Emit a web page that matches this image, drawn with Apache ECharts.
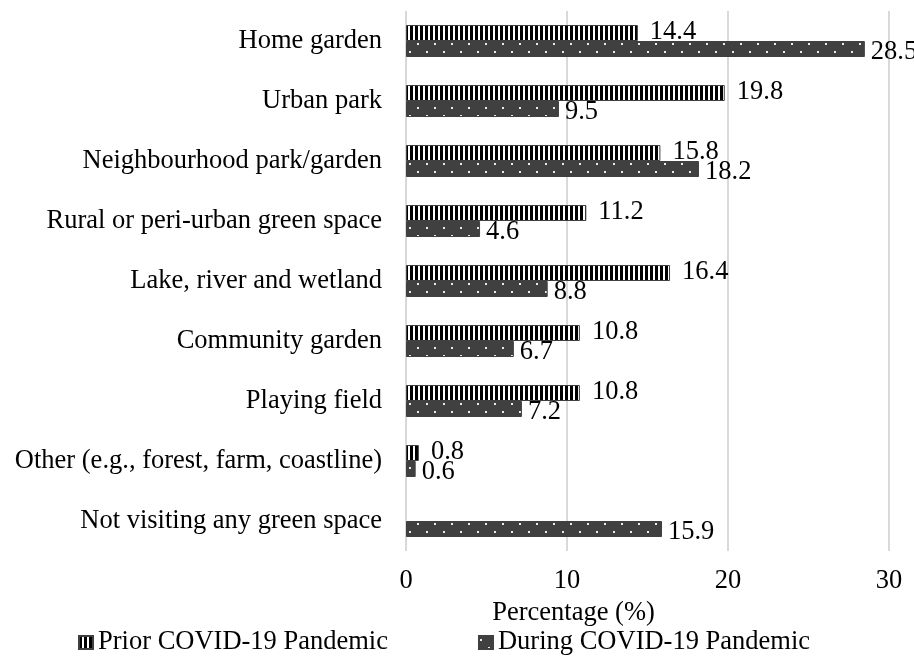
<!DOCTYPE html>
<html>
<head>
<meta charset="utf-8">
<title>Green space visits</title>
<script src="https://cdn.jsdelivr.net/npm/echarts@6/dist/echarts.min.js"></script>
<style>
  html, body { margin: 0; padding: 0; background: #fff; }
  #chart { width: 914px; height: 656px; }
</style>
</head>
<body>
<div id="chart"></div>
<script>
// Green space types, top to bottom
const categories = [
  'Home garden',
  'Urban park',
  'Neighbourhood park/garden',
  'Rural or peri-urban green space',
  'Lake, river and wetland',
  'Community garden',
  'Playing field',
  'Other (e.g., forest, farm, coastline)',
  'Not visiting any green space'
];
const seriesNames = ['Prior COVID-19 Pandemic', 'During COVID-19 Pandemic'];
// Percentage of respondents
const priorValues = [14.4, 19.8, 15.8, 11.2, 16.4, 10.8, 10.8, 0.8, null];
const duringValues = [28.5, 9.5, 18.2, 4.6, 8.8, 6.7, 7.2, 0.6, 15.9];
// Percentage axis
const axisMin = 0;
const axisMax = 30;
const axisStep = 10;

const FONT = '"Liberation Serif", "Times New Roman", serif';
const FS = 26.5;

// Vertical black stripes on white
function stripePattern() {
  const c = document.createElement('canvas');
  c.width = 5; c.height = 4;
  const g = c.getContext('2d');
  g.fillStyle = '#ffffff';
  g.fillRect(0, 0, 5, 4);
  g.fillStyle = '#000000';
  g.fillRect(0, 0, 3, 4);
  return c;
}
// Dark grey with staggered light dots
function dotPattern() {
  const c = document.createElement('canvas');
  c.width = 17; c.height = 16;
  const g = c.getContext('2d');
  g.fillStyle = '#404040';
  g.fillRect(0, 0, 17, 16);
  g.fillStyle = '#ececec';
  g.fillRect(1, 3, 2, 2);
  g.fillRect(9, 11, 2, 2);
  return c;
}

const chart = echarts.init(document.getElementById('chart'), null, { renderer: 'canvas' });

const labelStyle = {
  show: true,
  position: 'right',
  fontFamily: FONT,
  fontSize: FS,
  color: '#000'
};

chart.setOption({
  animation: false,
  backgroundColor: '#ffffff',
  textStyle: { fontFamily: FONT },
  grid: { left: 406, right: 25, top: 11, bottom: 105, containLabel: false },
  legend: {
    data: seriesNames,
    left: 78,
    top: 624,
    padding: [5, 0, 5, 0],
    itemWidth: 14,
    itemHeight: 13,
    itemGap: 90,
    icon: 'rect',
    textStyle: { fontFamily: FONT, fontSize: FS, color: '#000' }
  },
  xAxis: {
    type: 'value',
    min: axisMin,
    max: axisMax,
    interval: axisStep,
    name: 'Percentage (%)',
    nameLocation: 'middle',
    nameGap: 43,
    nameTextStyle: { fontFamily: FONT, fontSize: FS, color: '#000', padding: [0, 148, 0, 0] },
    axisLine: { show: false },
    axisTick: { show: false },
    axisLabel: { margin: 17, fontFamily: FONT, fontSize: FS, color: '#000' },
    splitLine: { show: true, lineStyle: { color: '#d9d9d9', width: 2 } }
  },
  yAxis: {
    type: 'category',
    data: categories,
    inverse: true,
    axisLine: { show: false },
    axisTick: { show: false },
    axisLabel: { margin: 24, fontFamily: FONT, fontSize: FS, color: '#000', padding: [3, 0, 0, 0] },
    splitLine: { show: false }
  },
  series: [
    {
      name: seriesNames[0],
      type: 'bar',
      data: priorValues,
      barWidth: 16,
      barGap: '0%',
      itemStyle: {
        color: { image: stripePattern(), repeat: 'repeat' },
        borderColor: '#404040',
        borderWidth: 1
      },
      label: Object.assign({}, labelStyle, { distance: 12, offset: [0, -1] })
    },
    {
      name: seriesNames[1],
      type: 'bar',
      data: duringValues,
      barWidth: 16,
      barGap: '0%',
      itemStyle: {
        color: { image: dotPattern(), repeat: 'repeat' },
        borderColor: '#404040',
        borderWidth: 1
      },
      label: Object.assign({}, labelStyle, { distance: 6, offset: [0, 3] })
    }
  ]
});
</script>
</body>
</html>
